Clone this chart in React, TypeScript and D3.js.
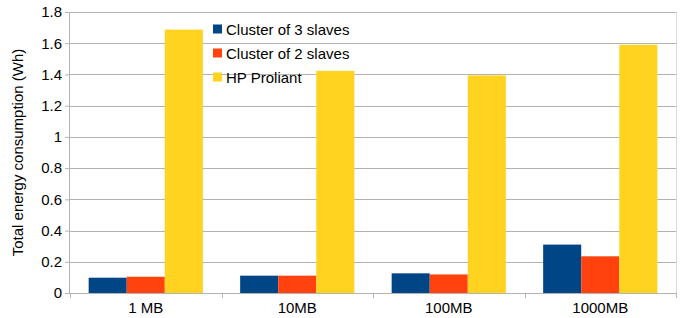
import React, { useEffect, useRef } from 'react';
import * as d3 from 'd3';

const categories = ['1 MB', '10MB', '100MB', '1000MB'];
const seriesNames = ['Cluster of 3 slaves', 'Cluster of 2 slaves', 'HP Proliant'];
const cluster3 = [0.098, 0.111, 0.126, 0.31];
const cluster2 = [0.104, 0.111, 0.119, 0.235];
const proliant = [1.687, 1.423, 1.394, 1.59];
const yTicks = [0, 0.2, 0.4, 0.6, 0.8, 1, 1.2, 1.4, 1.6, 1.8];
const colors = ['#004586', '#ff420e', '#ffd320'];

const W = 686;
const H = 318;

const App: React.FC = () => {
  const svgRef = useRef<SVGSVGElement>(null);

  useEffect(() => {
    document.body.style.margin = '0';
    if (!svgRef.current) return;
    const svg = d3.select(svgRef.current);
    svg.selectAll('*').remove();

    const margin = { top: 12, right: 10, bottom: 25, left: 70 };
    const plotW = W - margin.left - margin.right;
    const plotH = H - margin.top - margin.bottom;
    const font = '"Liberation Sans", Arial, sans-serif';

    const x = d3.scaleBand().domain(categories).range([0, plotW]).paddingInner(0).paddingOuter(0);
    const inner = d3.scaleBand().domain(seriesNames).range([0, x.bandwidth()]).paddingOuter(0.49).paddingInner(0);
    const y = d3.scaleLinear().domain([0, 1.8]).range([plotH, 0]);

    const g = svg.append('g').attr('transform', `translate(${margin.left},${margin.top})`);

    // grid
    g.append('g')
      .selectAll('line')
      .data(yTicks)
      .join('line')
      .attr('x1', 0)
      .attr('x2', plotW)
      .attr('y1', d => Math.round(y(d)) + 0.5)
      .attr('y2', d => Math.round(y(d)) + 0.5)
      .attr('stroke', '#b3b3b3')
      .attr('stroke-width', 1);

    // right border
    g.append('line')
      .attr('x1', plotW + 0.5).attr('x2', plotW + 0.5)
      .attr('y1', 0).attr('y2', plotH)
      .attr('stroke', '#d9d9d9');

    const series = [cluster3, cluster2, proliant];
    series.forEach((vals, si) => {
      g.append('g')
        .selectAll('rect')
        .data(vals)
        .join('rect')
        .attr('x', (_, i) => (x(categories[i]) || 0) + (inner(seriesNames[si]) || 0))
        .attr('width', inner.bandwidth())
        .attr('y', d => y(d))
        .attr('height', d => plotH - y(d))
        .attr('fill', colors[si]);
    });

    // y axis
    const yAxis = g.append('g')
      .call(d3.axisLeft(y).tickValues(yTicks).tickSize(5).tickPadding(3).tickFormat(d => String(d)));
    yAxis.select('.domain').attr('stroke', '#b3b3b3').attr('d', `M-0.5,0V${plotH}`);
    yAxis.selectAll('.tick line').attr('stroke', '#b3b3b3');
    yAxis.selectAll('text').attr('font-family', font).attr('font-size', 15).attr('fill', '#000');

    // x axis
    const xAxis = g.append('g').attr('transform', `translate(0,${plotH})`);
    xAxis.append('line').attr('x1', 0).attr('x2', plotW).attr('y1', 0.5).attr('y2', 0.5).attr('stroke', '#b3b3b3');
    const bounds = [0, ...categories.map(c => (x(c) || 0) + x.bandwidth())];
    xAxis.selectAll('line.tk')
      .data(bounds)
      .join('line')
      .attr('class', 'tk')
      .attr('x1', d => Math.round(d) + 0.5)
      .attr('x2', d => Math.round(d) + 0.5)
      .attr('y1', 0)
      .attr('y2', 5)
      .attr('stroke', '#b3b3b3');
    xAxis.selectAll('text')
      .data(categories)
      .join('text')
      .attr('x', d => (x(d) || 0) + x.bandwidth() / 2)
      .attr('y', 20)
      .attr('text-anchor', 'middle')
      .attr('font-family', font)
      .attr('font-size', 15)
      .text(d => d);

    // y title
    svg.append('text')
      .attr('transform', `translate(23,${margin.top + plotH / 2}) rotate(-90)`)
      .attr('text-anchor', 'middle')
      .attr('font-family', font)
      .attr('font-size', 15)
      .text('Total energy consumption (Wh)');

    // legend
    const leg = svg.append('g').attr('transform', 'translate(213,0)');
    seriesNames.forEach((name, i) => {
      const cy = 29 + i * 24;
      leg.append('rect').attr('x', 0).attr('y', cy - 4.5).attr('width', 9).attr('height', 9).attr('fill', colors[i]);
      leg.append('text')
        .attr('x', 13)
        .attr('y', cy + 5.5)
        .attr('font-family', font)
        .attr('font-size', 15)
        .text(name);
    });
  }, []);

  return <svg ref={svgRef} width={W} height={H} style={{ display: 'block', background: '#fff' }} />;
};

export default App;
